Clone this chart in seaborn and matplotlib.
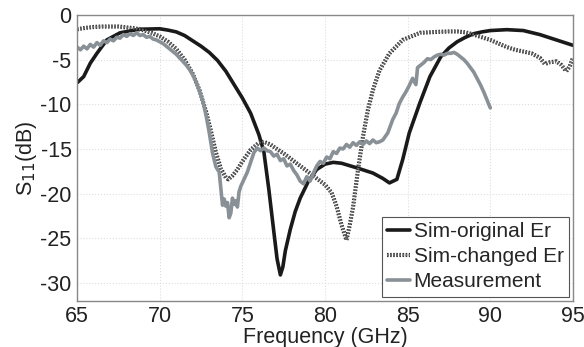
import seaborn as sns
import matplotlib.pyplot as plt
import matplotlib.patheffects as pe
import pandas as pd

# Sim-original Er (black)
f_orig = [65, 65.4, 65.8, 66.2, 66.8, 67.6, 68.8, 70, 70.5, 71, 71.5, 72, 72.5, 73,
          73.5, 74, 74.5, 75, 75.5, 76, 76.3, 76.6, 76.9, 77.1, 77.3, 77.45, 77.6,
          77.9, 78.2, 78.5, 79, 79.5, 80, 80.5, 81, 81.9, 82.9, 83.5, 83.9, 84.35,
          84.7, 85.1, 85.75, 86.35, 87, 87.5, 88, 88.5, 89, 89.5, 90, 91, 92, 93,
          94, 95]
s_orig = [-7.6, -6.9, -5.4, -4.3, -2.8, -2.0, -1.6, -1.55, -1.7, -1.9, -2.3, -2.9,
          -3.5, -4.2, -5.1, -6.3, -7.8, -9.3, -11.0, -13.4, -15.3, -19.5, -24.2,
          -27.3, -29.1, -28.2, -26.4, -24.0, -22.0, -20.5, -18.6, -17.3, -16.7,
          -16.5, -16.6, -17.1, -17.7, -18.3, -18.8, -18.4, -16.2, -13.2, -9.8,
          -6.9, -4.7, -3.7, -3.0, -2.5, -2.1, -1.9, -1.75, -1.65, -1.75, -2.2,
          -2.8, -3.4]

# Sim-changed Er (dotted dark gray)
f_chg = [65, 65.5, 66, 66.5, 67, 67.5, 68, 68.5, 69, 69.5, 70, 70.5, 71, 71.5, 72,
         72.4, 72.8, 73.1, 73.4, 73.7, 74.0, 74.15, 74.4, 74.7, 75.0, 75.5, 76.0,
         76.3, 76.7, 77.0, 77.5, 78.0, 78.5, 79.0, 79.5, 80.0, 80.4, 80.7, 81.0,
         81.3, 81.5, 81.7, 82.0, 82.3, 82.6, 82.9, 83.3, 83.9, 84.7, 85.75, 86.8,
         87.5, 88, 88.5, 89, 89.5, 90, 90.5, 91, 91.5, 92, 92.5, 93, 93.3, 93.6,
         94, 94.3, 94.6, 94.8, 95]
s_chg = [-1.6, -1.45, -1.35, -1.3, -1.3, -1.3, -1.4, -1.5, -1.7, -2.0, -2.4, -3.0,
         -3.8, -5.0, -6.6, -8.4, -10.8, -13.0, -15.4, -17.2, -18.2, -18.4, -18.0,
         -17.3, -16.4, -15.1, -14.3, -14.2, -14.5, -14.9, -15.5, -16.2, -16.9,
         -17.6, -18.3, -19.0, -19.9, -21.4, -23.5, -25.2, -23.5, -21.5, -17.3,
         -13.6, -10.6, -8.4, -6.2, -4.3, -2.8, -2.0, -1.9, -1.85, -1.85, -1.95,
         -2.2, -2.5, -2.8, -3.2, -3.6, -3.9, -4.1, -4.3, -4.8, -5.5, -5.3, -5.2,
         -5.6, -6.3, -5.8, -4.8]

# Measurement (light gray)
f_meas = [65.0, 65.2, 65.4, 65.6, 65.8, 66.0, 66.2, 66.4, 66.6, 66.8, 67.0, 67.2,
          67.4, 67.6, 67.8, 68.0, 68.2, 68.4, 68.6, 68.8, 69.0, 69.2, 69.4, 69.6,
          69.8, 70.0, 70.2, 70.4, 70.6, 70.8, 71.0, 71.2, 71.4, 71.6, 71.8, 72.0,
          72.2, 72.4, 72.6, 72.8, 73.0, 73.2, 73.4, 73.6, 73.7, 73.8, 73.9, 74.0,
          74.1, 74.2, 74.3, 74.4, 74.5, 74.6, 74.7, 74.8, 74.9, 75.0, 75.2, 75.3,
          75.5, 75.7, 75.9, 76.1, 76.3, 76.5, 76.7, 76.9, 77.1, 77.3, 77.5, 77.7,
          77.9, 78.1, 78.3, 78.5, 78.7, 78.9, 79.1, 79.3, 79.5, 79.7, 79.9, 80.1,
          80.3, 80.5, 80.7, 80.9, 81.1, 81.3, 81.5, 81.7, 81.9, 82.1, 82.3, 82.5,
          82.7, 82.9, 83.1, 83.3, 83.5, 83.8, 84.1, 84.3, 84.5, 84.7, 84.9, 85.1,
          85.3, 85.5, 85.6, 85.8, 86.0, 86.2, 86.4, 86.6, 86.8, 87.0, 87.2, 87.4,
          87.6, 87.8, 88.0, 88.2, 88.4, 88.6, 88.8, 89.0, 89.2, 89.4, 89.6, 89.8,
          90.0]
s_meas = [-3.6, -3.9, -3.5, -3.8, -3.3, -3.6, -3.1, -3.4, -2.9, -3.1, -2.7, -2.9,
          -2.5, -2.6, -2.2, -2.4, -2.1, -2.3, -2.0, -2.3, -2.2, -2.5, -2.4, -2.7,
          -2.8, -3.0, -3.2, -3.5, -3.8, -4.1, -4.4, -4.8, -5.2, -5.6, -6.1, -6.7,
          -7.5, -8.5, -9.6, -11.2, -13.2, -15.5, -17.0, -17.6, -19.5, -21.3, -20.6,
          -21.4, -21.0, -22.7, -22.2, -20.5, -21.2, -20.8, -21.5, -19.8, -19.2,
          -18.8, -18.0, -17.6, -16.5, -15.4, -14.9, -15.2, -14.9, -15.2, -15.3,
          -15.8, -15.6, -16.3, -16.1, -16.9, -16.7, -17.4, -17.9, -18.6, -18.9,
          -18.1, -18.6, -17.7, -16.9, -16.4, -16.6, -15.9, -16.1, -15.3, -15.5,
          -14.9, -15.0, -14.5, -14.8, -14.3, -14.6, -14.2, -14.5, -14.1, -14.4,
          -14.0, -14.3, -14.2, -14.0, -13.2, -11.7, -11.0, -9.9, -9.2, -8.6, -7.9,
          -7.1, -7.8, -5.9, -5.6, -5.3, -4.9, -5.0, -4.7, -4.5, -4.4, -4.5, -4.3,
          -4.3, -4.2, -4.4, -4.7, -5.0, -5.4, -5.9, -6.4, -7.1, -7.8, -8.6, -9.5,
          -10.4]

df_orig = pd.DataFrame({"f": f_orig, "s": s_orig})
df_chg = pd.DataFrame({"f": f_chg, "s": s_chg})
df_meas = pd.DataFrame({"f": f_meas, "s": s_meas})

sns.set_style("whitegrid")
plt.rcParams['font.family'] = ['Liberation Sans', 'DejaVu Sans']

fig = plt.figure(figsize=(5.84, 3.47), dpi=100)
ax = fig.add_axes([0.132, 0.133, 0.849, 0.824])

sns.lineplot(data=df_orig, x="f", y="s", ax=ax, color="#1a1a1a", linewidth=2.6,
             label="Sim-original Er", sort=False)
sns.lineplot(data=df_chg, x="f", y="s", ax=ax, color="#6a6a6a", linewidth=1.6,
             linestyle=(0, (0.7, 0.7)), label="Sim-changed Er", sort=False,
             path_effects=[pe.Stroke(linewidth=3.0, foreground="#2e2e2e"), pe.Normal()])
sns.lineplot(data=df_meas, x="f", y="s", ax=ax, color="#899197", linewidth=2.6,
             label="Measurement", sort=False)

ax.set_xlim(65, 95)
ax.set_ylim(-32, 0)
ax.set_xticks([65, 70, 75, 80, 85, 90, 95])
ax.set_yticks([0, -5, -10, -15, -20, -25, -30])
ax.set_yticklabels(["0", "-5", "-10", "-15", "-20", "-25", "-30"])
ax.tick_params(labelsize=15.5, colors="#222222", length=0, pad=4)
ax.grid(True, color="#dddddd", linestyle=":", linewidth=0.8)
for sp in ax.spines.values():
    sp.set_color("#888888")
    sp.set_linewidth(1.0)

ax.set_xlabel("Frequency (GHz)", fontsize=15.5, labelpad=0, color="#222222")
ax.set_ylabel("S$_{11}$(dB)", fontsize=15.5, labelpad=1, color="#222222")

leg = ax.legend(loc="lower right", fontsize=15, frameon=True, fancybox=False,
                borderaxespad=0.2, handlelength=1.1, handletextpad=0.15,
                borderpad=0.25, labelspacing=0.3)
leg.get_frame().set_edgecolor("#555555")
leg.get_frame().set_linewidth(0.8)
leg.get_frame().set_alpha(1)

plt.savefig("out.png", dpi=100)
